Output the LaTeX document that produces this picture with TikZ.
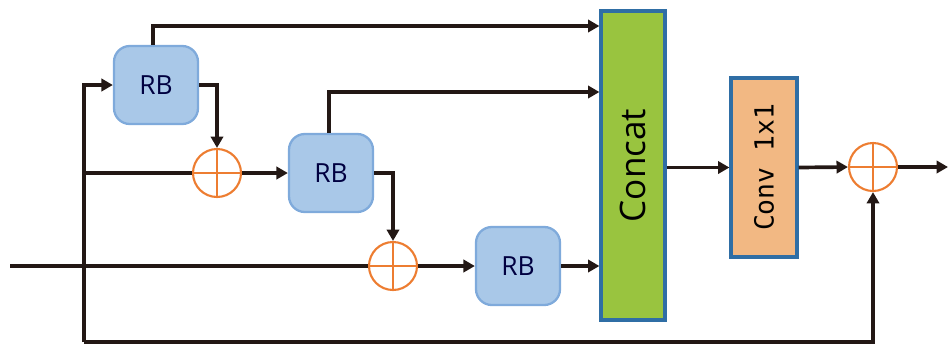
\documentclass[tikz,border=0pt]{standalone}
\usepackage{fontspec}
\setmainfont{Open Sans}
\newfontfamily\monofont{DejaVu Sans Mono}
\usetikzlibrary{arrows.meta}
\definecolor{rbfill}{HTML}{A9C8E8}
\definecolor{rbedge}{HTML}{7FAADB}
\definecolor{catfill}{HTML}{99C43F}
\definecolor{boxedge}{HTML}{2F6EA5}
\definecolor{convfill}{HTML}{F2B883}
\definecolor{sumcol}{HTML}{ED7D31}
\definecolor{wire}{HTML}{231815}
\tikzset{
  rb/.style={draw=rbedge, fill=rbfill, line width=1.3pt, rounded corners=9pt,
    minimum width=84*0.02cm, minimum height=78*0.02cm, inner sep=0pt,
    font=\fontsize{15}{15}\selectfont, text=black!75!blue},
  sum/.style={circle, draw=sumcol, line width=1.2pt, minimum size=48*0.02cm, inner sep=0pt},
  tall/.style={draw=boxedge, line width=1.8pt, inner sep=0pt},
  wirel/.style={draw=wire, line width=2.1pt},
  arr/.style={wirel, -{Triangle[length=6.5pt,width=7pt]}},
}
\newcommand{\sumcross}[1]{%
  \draw[sumcol, line width=1.3pt] (#1.north) -- (#1.south) (#1.west) -- (#1.east);}
\begin{document}
\begin{tikzpicture}[x=0.02cm, y=-0.02cm]
\useasboundingbox (0,0) rectangle (950,346);

% blocks
\node[rb] (rb1) at (156,85) {RB};
\node[rb] (rb2) at (331,173) {RB};
\node[rb] (rb3) at (518,266) {RB};
\node[sum] (s1) at (217,173) {};
\node[sum] (s2) at (393,266) {};
\node[sum] (s3) at (873,167) {};
\sumcross{s1}\sumcross{s2}\sumcross{s3}
\node[tall, fill=catfill, minimum width=64*0.02cm, minimum height=309*0.02cm] (cat) at (633,165.5)
  {\rotatebox{90}{\fontsize{20}{20}\selectfont Concat}};
\node[tall, fill=convfill, minimum width=66*0.02cm, minimum height=179*0.02cm] (conv) at (764,167.5)
  {\rotatebox{90}{\monofont\fontsize{15}{15}\selectfont Conv 1x1}};

% helper points
\coordinate (in) at (10,266);
\coordinate (jt) at (84,85);
\coordinate (jm) at (84,173);
\coordinate (jb) at (84,342);
\coordinate (out) at (948,167);

% input and skip paths
\draw[wirel] (in) -- (s2.west);
\draw[arr] (jb) -- (jt) -- (rb1.west);
\draw[wirel] (jm) -- (s1.west);
\draw[arr] (jb) -| (s3.south);

% residual chain
\draw[arr] (rb1.east) -| (s1.north);
\draw[arr] (s1.east) -- (rb2.west);
\draw[arr] (rb2.east) -| (s2.north);
\draw[arr] (s2.east) -- (rb3.west);

% dense links into the concatenation
\draw[arr] (rb1.north -| 153,0) |- (cat.north west |- 0,26);
\draw[arr] (rb2.north -| 329,0) |- (cat.north west |- 0,92);
\draw[arr] (rb3.east) -- (cat.west |- rb3.east);

% fusion and global residual
\draw[arr] (cat.east |- conv.west) -- (conv.west);
\draw[arr] (conv.east) -- (s3.west);
\draw[arr] (s3.east) -- (out);
\end{tikzpicture}
\end{document}
